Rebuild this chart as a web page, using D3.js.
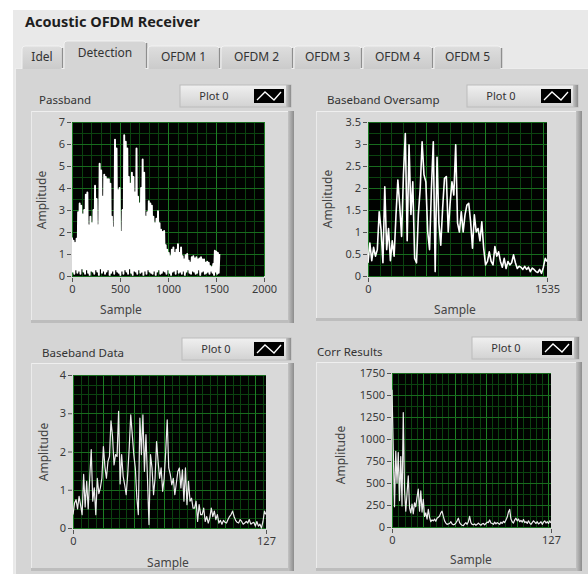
<!DOCTYPE html>
<html>
<head>
<meta charset="utf-8">
<script src="https://cdn.jsdelivr.net/npm/d3@7"></script>
<style>
  body { margin: 0; background: #fff; }
  svg { display: block; font-family: "Noto Sans", "Open Sans", sans-serif; }
</style>
</head>
<body>
<svg id="panel" width="588" height="574"></svg>
<script>
// ---- data ----
const tabNames = ["Idel", "Detection", "OFDM 1", "OFDM 2", "OFDM 3", "OFDM 4", "OFDM 5"];

// Passband: peak / dip of the rectified signal every 16 samples (0..1535)
const passbandStep = 16;
const passbandPeak = [1.75,1.6,1.5,1.7,2.9,3.3,3.2,2.8,3.0,3.7,
  3.8,2.3,2.7,2.4,3.0,4.1,3.5,2.3,5.1,4.8,
  3.6,4.6,4.5,4.4,4.4,4.2,2.7,2.2,6.2,5.8,
  3.9,4.0,2.0,3.0,6.4,6.1,5.8,4.5,4.2,4.7,
  4.5,3.8,5.8,3.6,3.3,4.0,5.3,4.7,2.7,2.9,
  3.4,3.3,3.2,2.7,2.4,2.6,2.95,2.4,2.1,2.0,
  2.05,1.4,1.2,1.05,0.9,1.2,1.3,1.05,1.2,1.45,
  1.05,1.3,0.9,0.75,0.95,1.0,0.7,0.6,0.85,0.9,
  0.8,0.85,0.75,0.8,0.85,0.75,0.75,0.6,0.65,0.6,
  0.45,0.4,0.55,1.15,1.1,1.05,1.0];
const passbandDip = [0.2,0.1,0.3,0.15,0.25,0.1,0.35,0.2,0.1,0.3,
  0.15,0.05,0.25,0.2,0.1,0.3,0.2,0.05,0.35,0.15,
  0.25,0.1,0.2,0.3,0.05,0.15,0.25,0.1,0.3,0.2,
  0.15,0.05,0.25,0.1,0.3,0.2,0.1,0.35,0.15,0.05,
  0.25,0.2,0.1,0.3,0.15,0.2,0.05,0.25,0.1,0.3,
  0.2,0.15,0.1,0.25,0.05,0.2,0.3,0.1,0.15,0.25,
  0.2,0.1,0.3,0.15,0.05,0.2,0.25,0.1,0.3,0.15,
  0.2,0.1,0.25,0.05,0.2,0.3,0.15,0.1,0.25,0.2,
  0.1,0.15,0.3,0.05,0.2,0.25,0.1,0.15,0.2,0.1,
  0.25,0.15,0.05,0.2,0.1,0.15];

// Baseband oversampled: every 16 samples (0..1535)
const oversampStep = 16;
const oversampValues = [0.3,0.75,0.35,0.65,0.45,0.6,1.46,1.05,0.3,2.03,
  0.6,1.08,0.35,0.8,0.45,1.38,2.18,1.6,0.9,2.3,
  3.24,0.8,2.98,1.4,2.14,0.4,0.3,1.4,2.0,3.05,
  2.3,2.14,1.0,0.6,2.0,3.05,0.1,2.7,1.2,0.7,
  1.54,2.22,2.26,1.0,1.65,2.14,1.84,2.98,1.2,1.0,
  1.46,1.0,1.39,1.61,1.65,1.23,0.63,1.39,1.0,1.08,
  0.8,1.23,0.63,0.25,0.33,0.55,0.33,0.25,0.67,0.45,
  0.55,0.33,0.2,0.4,0.17,0.33,0.25,0.3,0.48,0.3,
  0.17,0.22,0.2,0.15,0.22,0.15,0.2,0.1,0.18,0.15,
  0.1,0.08,0.15,0.06,0.2,0.4,0.33];

// Baseband data: 128 samples
const basebandValues = [0.35,0.65,0.74,0.5,0.83,0.6,0.35,1.4,0.55,1.22,
  0.5,1.3,2.05,0.7,1.05,0.35,1.3,0.9,1.05,1.3,
  2.13,1.6,1.3,1.74,1.87,2.8,2.4,1.65,1.92,1.87,
  3.05,1.15,1.92,1.35,1.13,0.87,1.4,2.1,2.96,2.44,
  1.92,1.57,0.8,0.35,2.87,1.92,2.96,1.48,2.44,1.3,
  0.09,1.92,1.57,0.87,1.3,2.26,1.74,1.3,1.57,0.96,
  1.3,2.0,2.83,1.57,1.4,1.13,1.3,0.87,1.17,1.48,
  1.57,1.05,1.52,0.7,1.57,0.61,1.22,0.7,0.78,0.52,
  0.52,0.7,0.17,0.61,0.35,0.35,0.52,0.17,0.3,0.13,
  0.26,0.52,0.3,0.44,0.22,0.35,0.13,0.2,0.1,0.2,
  0.15,0.13,0.22,0.3,0.35,0.44,0.3,0.2,0.15,0.13,
  0.22,0.17,0.1,0.13,0.17,0.13,0.22,0.1,0.13,0.15,
  0.05,0.17,0.05,0.1,0.0,0.17,0.44,0.35];

// Correlation results: 128 samples
const corrValues = [1560,880,230,860,500,845,300,800,240,1300,
  420,180,380,580,220,160,260,150,275,230,
  340,430,180,410,170,315,120,160,90,200,
  110,60,80,70,90,65,100,110,125,160,
  180,120,70,45,30,35,40,60,35,25,
  30,45,70,100,50,30,20,15,35,50,
  30,60,120,50,30,25,35,20,30,45,
  30,20,35,40,25,40,55,50,80,45,
  40,30,55,35,50,40,30,55,40,65,
  50,80,110,170,200,90,60,45,80,100,
  70,90,60,75,55,85,50,60,40,70,
  45,30,50,70,55,40,60,35,45,60,
  30,55,70,45,60,40,70,45];

// axis ticks
const passbandXTicks = [0, 500, 1000, 1500, 2000];
const passbandYTicks = [0, 1, 2, 3, 4, 5, 6, 7];
const oversampXTicks = [0, 1535];
const oversampYTicks = [0, 0.5, 1, 1.5, 2, 2.5, 3, 3.5];
const basebandXTicks = [0, 127];
const basebandYTicks = [0, 1, 2, 3, 4];
const corrXTicks = [0, 127];
const corrYTicks = [0, 250, 500, 750, 1000, 1250, 1500, 1750];

// ---- panel chrome ----
const svg = d3.select("#panel");
const defs = svg.append("defs");

function vGrad(id, stops) {
  const g = defs.append("linearGradient").attr("id", id)
    .attr("x1", 0).attr("y1", 0).attr("x2", 0).attr("y2", 1);
  stops.forEach(s => g.append("stop").attr("offset", s[0]).attr("stop-color", s[1]));
}
function hGrad(id, stops) {
  const g = defs.append("linearGradient").attr("id", id)
    .attr("x1", 0).attr("y1", 0).attr("x2", 1).attr("y2", 0);
  stops.forEach(s => g.append("stop").attr("offset", s[0]).attr("stop-color", s[1]));
}
vGrad("btnGrad", [[0, "#f0f0f0"], [1, "#d2d2d2"]]);
vGrad("tabGrad", [[0, "#dedede"], [1, "#cbcbcb"]]);
hGrad("shadowR", [[0, "#c4c4c4"], [1, "#8c8c8c"]]);

svg.append("rect").attr("x", 13).attr("y", 10).attr("width", 575).attr("height", 564)
  .attr("fill", "#e9e9e9");

svg.append("text")
  .attr("x", 25).attr("y", 27)
  .attr("font-size", 14.5).attr("font-weight", "bold").attr("fill", "#1e1e1e")
  .text("Acoustic OFDM Receiver");

// tab body
svg.append("rect").attr("x", 15).attr("y", 68).attr("width", 573).attr("height", 506)
  .attr("fill", "#d5d5d5");
svg.append("line").attr("x1", 15).attr("x2", 588).attr("y1", 68.5).attr("y2", 68.5)
  .attr("stroke", "#ededed");
svg.append("line").attr("x1", 15.5).attr("x2", 15.5).attr("y1", 68).attr("y2", 574)
  .attr("stroke", "#ededed");

// tabs
const tabEdges = [22, 64, 148, 221, 294, 363, 434, 503];
tabNames.forEach((name, i) => {
  const x0 = tabEdges[i], x1 = tabEdges[i + 1] - 2;
  const sel = i === 1;
  const top = sel ? 41 : 46;
  const g = svg.append("g");
  g.append("path")
    .attr("d", `M${x0},69 L${x0},${top + 3} Q${x0},${top} ${x0 + 3},${top} L${x1 - 3},${top} Q${x1},${top} ${x1},${top + 3} L${x1},69`)
    .attr("fill", sel ? "#d5d5d5" : "url(#tabGrad)")
    .attr("stroke", "#f2f2f2").attr("stroke-width", 1);
  g.append("line").attr("x1", x1 + 0.5).attr("x2", x1 + 0.5).attr("y1", top + 2).attr("y2", 68)
    .attr("stroke", "#8e8e8e").attr("stroke-width", 1.5);
  g.append("text")
    .attr("x", (x0 + x1) / 2).attr("y", sel ? 57 : 61)
    .attr("text-anchor", "middle").attr("font-size", 12).attr("fill", "#333")
    .text(name);
});
// cover the selected tab's bottom seam
svg.append("rect").attr("x", 65).attr("y", 66).attr("width", 80).attr("height", 4).attr("fill", "#d5d5d5");

// ---- one waveform graph ----
function drawGraph(cfg) {
  const g = svg.append("g");

  // raised frame
  const f = cfg.frame;
  g.append("rect").attr("x", f.x).attr("y", f.y).attr("width", f.w).attr("height", f.h)
    .attr("fill", "#d9d9d9");
  g.append("rect").attr("x", f.x + f.w - 6).attr("y", f.y).attr("width", 6).attr("height", f.h)
    .attr("fill", "url(#shadowR)");
  g.append("rect").attr("x", f.x).attr("y", f.y + f.h - 3).attr("width", f.w - 6).attr("height", 3)
    .attr("fill", "#bdbdbd");
  g.append("line").attr("x1", f.x).attr("x2", f.x + f.w - 6).attr("y1", f.y + 0.5).attr("y2", f.y + 0.5)
    .attr("stroke", "#efefef");
  g.append("line").attr("x1", f.x + 0.5).attr("x2", f.x + 0.5).attr("y1", f.y).attr("y2", f.y + f.h - 3)
    .attr("stroke", "#ebebeb");

  // caption
  g.append("text").attr("x", cfg.label.x).attr("y", cfg.label.y)
    .attr("font-size", 11.5).attr("fill", "#333").text(cfg.label.text);

  // legend button "Plot 0"
  const b = cfg.button;
  g.append("rect").attr("x", b.x).attr("y", b.y).attr("width", b.w).attr("height", b.h)
    .attr("fill", "url(#btnGrad)").attr("stroke", "#bcbcbc");
  g.append("rect").attr("x", b.x + b.w - 5).attr("y", b.y).attr("width", 5).attr("height", b.h)
    .attr("fill", "url(#shadowR)");
  g.append("text").attr("x", b.x + 34).attr("y", b.y + 15)
    .attr("text-anchor", "middle").attr("font-size", 11).attr("fill", "#333").text("Plot 0");
  const ix = b.x + b.w - 37, iy = b.y + 4;
  g.append("rect").attr("x", ix).attr("y", iy).attr("width", 30).attr("height", 14).attr("fill", "#000");
  g.append("path")
    .attr("d", `M${ix + 3},${iy + 11} L${ix + 11},${iy + 3} L${ix + 20},${iy + 11} L${ix + 27},${iy + 3}`)
    .attr("fill", "none").attr("stroke", "#fff").attr("stroke-width", 1.3);

  // scales
  const p = cfg.plot;
  const x = d3.scaleLinear().domain(cfg.xDomain).range([p.x0, p.x1]);
  const y = d3.scaleLinear().domain(cfg.yDomain).range([p.y1, p.y0]);

  g.append("rect").attr("x", p.x0).attr("y", p.y0)
    .attr("width", p.x1 - p.x0).attr("height", p.y1 - p.y0).attr("fill", "#010301");

  // grid: minor then major
  const minorX = d3.range(cfg.xDomain[0], cfg.xDomain[1] + 1e-9, cfg.xMinor);
  const majorX = d3.range(cfg.xDomain[0], cfg.xDomain[1] + 1e-9, cfg.xMajor);
  const minorY = d3.range(cfg.yDomain[0], cfg.yDomain[1] + 1e-9, cfg.yMinor);
  const majorY = d3.range(cfg.yDomain[0], cfg.yDomain[1] + 1e-9, cfg.yMajor);

  const grid = g.append("g").attr("shape-rendering", "crispEdges");
  grid.selectAll(".mx").data(minorX).join("line")
    .attr("x1", d => Math.round(x(d)) + 0.5).attr("x2", d => Math.round(x(d)) + 0.5)
    .attr("y1", p.y0).attr("y2", p.y1).attr("stroke", "#0b4410");
  grid.selectAll(".my").data(minorY).join("line")
    .attr("y1", d => Math.round(y(d)) + 0.5).attr("y2", d => Math.round(y(d)) + 0.5)
    .attr("x1", p.x0).attr("x2", p.x1).attr("stroke", "#0b4410");
  grid.selectAll(".Mx").data(majorX).join("line")
    .attr("x1", d => Math.round(x(d)) + 0.5).attr("x2", d => Math.round(x(d)) + 0.5)
    .attr("y1", p.y0).attr("y2", p.y1).attr("stroke", "#1d7f24");
  grid.selectAll(".My").data(majorY).join("line")
    .attr("y1", d => Math.round(y(d)) + 0.5).attr("y2", d => Math.round(y(d)) + 0.5)
    .attr("x1", p.x0).attr("x2", p.x1).attr("stroke", "#186c1e");

  // trace
  const clipId = "clip" + cfg.id;
  defs.append("clipPath").attr("id", clipId).append("rect")
    .attr("x", p.x0).attr("y", p.y0 - 2).attr("width", p.x1 - p.x0 + 1).attr("height", p.y1 - p.y0 + 3);
  g.append("path")
    .datum(cfg.points)
    .attr("clip-path", `url(#${clipId})`)
    .attr("d", d3.line().x(d => x(d[0])).y(d => y(d[1])))
    .attr("fill", "none").attr("stroke", cfg.stroke || "#fff")
    .attr("stroke-width", cfg.strokeWidth || 1).attr("stroke-linejoin", "round");

  // axes
  const yAxis = g.append("g").attr("transform", `translate(${p.x0 - 1},0)`)
    .call(d3.axisLeft(y).tickValues(cfg.yTicks).tickSize(4).tickPadding(2).tickFormat(d => String(d)));
  const xAxis = g.append("g").attr("transform", `translate(0,${p.y1 + 2})`)
    .call(d3.axisBottom(x).tickValues(cfg.xTicks).tickSize(4).tickPadding(3).tickFormat(d => String(d)));
  [yAxis, xAxis].forEach(a => {
    a.select(".domain").remove();
    a.selectAll("line").attr("stroke", "#555");
    a.selectAll("text").attr("fill", "#3a3a3a").attr("font-size", 11)
      .attr("font-family", "\"Noto Sans\", sans-serif");
  });

  g.append("text").attr("x", cfg.xTitle.x).attr("y", cfg.xTitle.y)
    .attr("text-anchor", "middle").attr("font-size", 12).attr("fill", "#444").text("Sample");
  g.append("text")
    .attr("transform", `translate(${cfg.yTitle.x},${cfg.yTitle.y}) rotate(-90)`)
    .attr("text-anchor", "middle").attr("font-size", 12).attr("fill", "#444").text("Amplitude");
}

// point lists built from the arrays
const passbandPoints = [];
passbandPeak.forEach((v, i) => {
  passbandPoints.push([Math.min(i * passbandStep, 1535), v]);
  if (i < passbandDip.length) passbandPoints.push([i * passbandStep + passbandStep / 2, passbandDip[i]]);
});
const oversampPoints = oversampValues.map((v, i) => [Math.min(i * oversampStep, 1535), v]);
const basebandPoints = basebandValues.map((v, i) => [i, v]);
const corrPoints = corrValues.map((v, i) => [i, v]);

drawGraph({
  id: 1,
  frame: { x: 31, y: 111, w: 263, h: 212 },
  label: { x: 39, y: 104, text: "Passband" },
  button: { x: 180, y: 85, w: 111, h: 22 },
  plot: { x0: 72, x1: 264, y0: 122, y1: 276 },
  xDomain: [0, 2000], yDomain: [0, 7],
  xMinor: 100, xMajor: 500, yMinor: 0.5, yMajor: 1,
  xTicks: passbandXTicks, yTicks: passbandYTicks,
  points: passbandPoints, strokeWidth: 1.9,
  xTitle: { x: 121, y: 314 }, yTitle: { x: 46, y: 200 }
});

drawGraph({
  id: 2,
  frame: { x: 316, y: 111, w: 266, h: 210 },
  label: { x: 327, y: 104, text: "Baseband Oversamp" },
  button: { x: 467, y: 85, w: 111, h: 22 },
  plot: { x0: 368, x1: 547, y0: 122, y1: 276 },
  xDomain: [0, 1535], yDomain: [0, 3.5],
  xMinor: 100, xMajor: 500, yMinor: 0.25, yMajor: 0.5,
  xTicks: oversampXTicks, yTicks: oversampYTicks,
  points: oversampPoints, strokeWidth: 1.6,
  xTitle: { x: 455, y: 314 }, yTitle: { x: 332, y: 199 }
});

drawGraph({
  id: 3,
  frame: { x: 31, y: 363, w: 263, h: 208 },
  label: { x: 42, y: 357, text: "Baseband Data" },
  button: { x: 182, y: 338, w: 109, h: 22 },
  plot: { x0: 73, x1: 266, y0: 375, y1: 528 },
  xDomain: [0, 127], yDomain: [0, 4],
  xMinor: 5, xMajor: 20, yMinor: 0.25, yMajor: 1,
  xTicks: basebandXTicks, yTicks: basebandYTicks,
  points: basebandPoints, stroke: "#ececec", strokeWidth: 1.2,
  xTitle: { x: 168, y: 567 }, yTitle: { x: 48, y: 452 }
});

drawGraph({
  id: 4,
  frame: { x: 316, y: 362, w: 266, h: 209 },
  label: { x: 317, y: 356, text: "Corr Results" },
  button: { x: 472, y: 337, w: 107, h: 22 },
  plot: { x0: 392, x1: 551, y0: 373, y1: 527 },
  xDomain: [0, 127], yDomain: [0, 1750],
  xMinor: 5, xMajor: 25, yMinor: 125, yMajor: 250,
  xTicks: corrXTicks, yTicks: corrYTicks,
  points: corrPoints, stroke: "#ececec", strokeWidth: 1.2,
  xTitle: { x: 471, y: 564 }, yTitle: { x: 345, y: 455 }
});
</script>
</body>
</html>
